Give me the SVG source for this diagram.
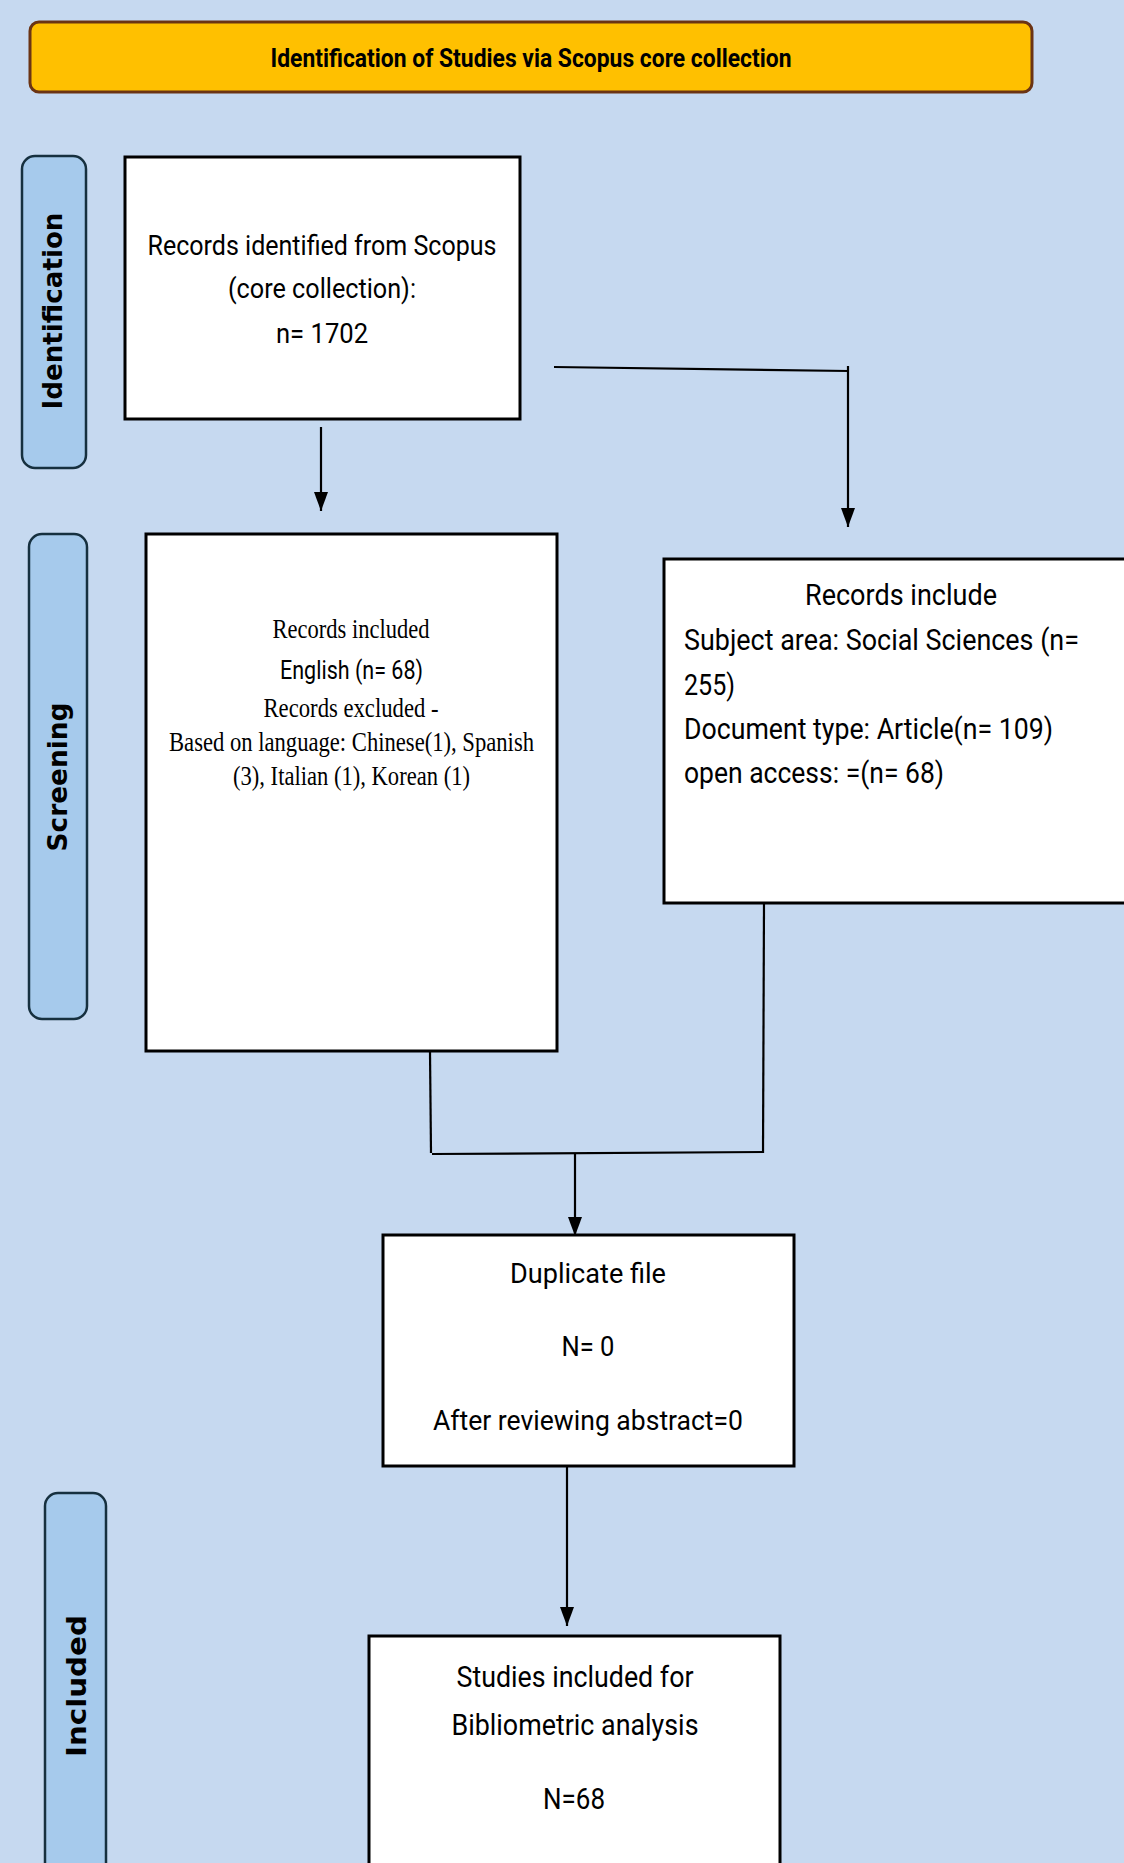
<svg xmlns="http://www.w3.org/2000/svg" width="1124" height="1863" viewBox="0 0 1124 1863">
<style>
.box{fill:#ffffff;stroke:#000000;stroke-width:3}
.lab{fill:#A6CAEC;stroke:#16303F;stroke-width:2.5}
.labt{font-family:"DejaVu Sans",Verdana,sans-serif;font-weight:bold;font-size:26px;fill:#000;text-anchor:middle}
.t{font-family:"Liberation Sans Narrow","Roboto","Liberation Sans",sans-serif;fill:#000;text-anchor:middle}
.tl{font-family:"Liberation Sans Narrow","Roboto","Liberation Sans",sans-serif;fill:#000;font-size:30px}
.s{font-family:"Liberation Serif","Times New Roman",serif;fill:#000;text-anchor:middle;font-size:27px}
.ln{fill:none;stroke:#000;stroke-width:2.2}
</style>
<defs>
<marker id="ah" viewBox="0 0 14 19" refX="7" refY="19" markerWidth="14" markerHeight="19" markerUnits="userSpaceOnUse" orient="0">
<path d="M0,0 L14,0 L7,19 Z" fill="#000"/>
</marker>
</defs>
<rect x="0" y="0" width="1124" height="1863" fill="#C6D9F0"/>

<g id="banner">
<rect x="30" y="22" width="1002" height="70" rx="9" fill="#FFC000" stroke="#6B3414" stroke-width="3"/>
<text x="531" y="67" class="t" font-size="26" font-weight="bold" textLength="521" lengthAdjust="spacingAndGlyphs">Identification of Studies via Scopus core collection</text>
</g>

<g id="label-identification">
<rect class="lab" x="22" y="156" width="64" height="312" rx="13"/>
<text class="labt" transform="translate(62,311) rotate(-90)" textLength="197" lengthAdjust="spacingAndGlyphs">Identification</text>
</g>
<g id="label-screening">
<rect class="lab" x="29" y="534" width="58" height="485" rx="13"/>
<text class="labt" transform="translate(67,777) rotate(-90)" textLength="149" lengthAdjust="spacingAndGlyphs">Screening</text>
</g>
<g id="label-included">
<rect class="lab" x="45" y="1493" width="61" height="420" rx="13"/>
<text class="labt" transform="translate(86,1686) rotate(-90)" textLength="142" lengthAdjust="spacingAndGlyphs">Included</text>
</g>

<g id="node-records-identified">
<rect class="box" x="125" y="157" width="395" height="262"/>
<text class="t" x="322" y="255" font-size="27" textLength="349" lengthAdjust="spacingAndGlyphs">Records identified from Scopus</text>
<text class="t" x="322" y="298" font-size="27" textLength="188" lengthAdjust="spacingAndGlyphs">(core collection):</text>
<text class="t" x="322" y="343" font-size="27" textLength="92" lengthAdjust="spacingAndGlyphs">n= 1702</text>
</g>

<g id="node-screening-language">
<rect class="box" x="146" y="534" width="411" height="517"/>
<text class="s" x="351" y="638" textLength="157" lengthAdjust="spacingAndGlyphs">Records included</text>
<text class="t" x="351.5" y="679" font-size="26" textLength="143" lengthAdjust="spacingAndGlyphs">English (n= 68)</text>
<text class="s" x="351" y="717" textLength="175" lengthAdjust="spacingAndGlyphs">Records excluded -</text>
<text class="s" x="351.5" y="751" textLength="365" lengthAdjust="spacingAndGlyphs">Based on language: Chinese(1), Spanish</text>
<text class="s" x="351.5" y="785" textLength="237" lengthAdjust="spacingAndGlyphs">(3), Italian (1), Korean (1)</text>
</g>

<g id="node-records-include">
<rect class="box" x="664" y="559" width="480" height="344"/>
<text class="t" x="901" y="605" font-size="30" textLength="192" lengthAdjust="spacingAndGlyphs">Records include</text>
<text class="tl" x="684" y="650" textLength="395" lengthAdjust="spacingAndGlyphs">Subject area: Social Sciences (n=</text>
<text class="tl" x="684" y="695" textLength="51" lengthAdjust="spacingAndGlyphs">255)</text>
<text class="tl" x="684" y="739" textLength="369" lengthAdjust="spacingAndGlyphs">Document type: Article(n= 109)</text>
<text class="tl" x="684" y="783" textLength="260" lengthAdjust="spacingAndGlyphs">open access: =(n= 68)</text>
</g>

<g id="node-duplicate">
<rect class="box" x="383" y="1235" width="411" height="231"/>
<text class="t" x="588" y="1283" font-size="28" textLength="156" lengthAdjust="spacingAndGlyphs">Duplicate file</text>
<text class="t" x="588" y="1356" font-size="28" textLength="53" lengthAdjust="spacingAndGlyphs">N= 0</text>
<text class="t" x="588" y="1430" font-size="28" textLength="310" lengthAdjust="spacingAndGlyphs">After reviewing abstract=0</text>
</g>

<g id="node-included">
<rect class="box" x="369" y="1636" width="411" height="260"/>
<text class="t" x="575" y="1687" font-size="29" textLength="237" lengthAdjust="spacingAndGlyphs">Studies included for</text>
<text class="t" x="575" y="1735" font-size="29" textLength="247" lengthAdjust="spacingAndGlyphs">Bibliometric analysis</text>
<text class="t" x="574" y="1809" font-size="29" textLength="62" lengthAdjust="spacingAndGlyphs">N=68</text>
</g>

<g id="connectors">
<path class="ln" d="M321,427 V511" marker-end="url(#ah)"/>
<path class="ln" d="M554,367 L849,371"/>
<path class="ln" d="M848,366 V527" marker-end="url(#ah)"/>
<path class="ln" d="M430,1052 L431,1153"/>
<path class="ln" d="M764,903 L763,1153"/>
<path class="ln" d="M432,1154 L764,1152"/>
<path class="ln" d="M575,1154 V1236" marker-end="url(#ah)"/>
<path class="ln" d="M567,1466 V1626" marker-end="url(#ah)"/>
</g>
</svg>
